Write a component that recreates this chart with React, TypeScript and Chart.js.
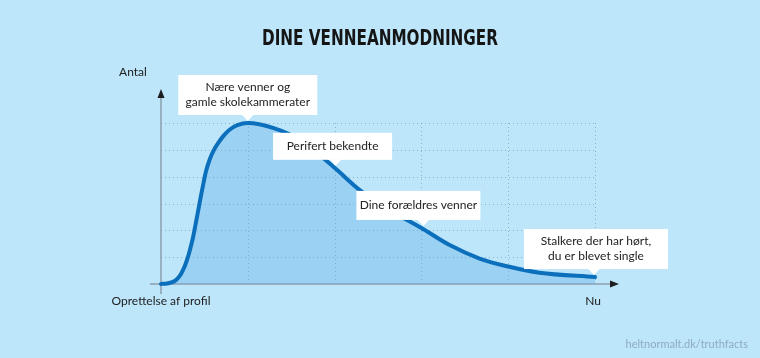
import React, { useEffect, useRef } from 'react';
import { Chart, registerables } from 'chart.js';

Chart.register(...registerables);

// ---- data ----
const xValues = [0, 0.07, 0.13, 0.18, 0.22, 0.25, 0.28, 0.31, 0.34, 0.37, 0.4, 0.43, 0.46, 0.49, 0.52, 0.56, 0.61, 0.66, 0.72, 0.79, 0.88, 1, 1.29, 1.6, 2, 2.29, 2.63, 3, 3.32, 3.67, 4, 4.36, 5];
const yValues = [0, 0.02, 0.07, 0.17, 0.32, 0.5, 0.72, 1.0, 1.35, 1.75, 2.25, 2.76, 3.28, 3.77, 4.22, 4.63, 5.0, 5.26, 5.52, 5.75, 5.92, 6, 5.82, 5.37, 4.33, 3.5, 2.76, 2.09, 1.46, 0.95, 0.65, 0.42, 0.26];
const gridX = [1, 2, 3, 4, 5];
const gridY = [1, 2, 3, 4, 5, 6];
const annotationX = [1, 2, 3, 5];
const annotationText = [
  ['Nære venner og', 'gamle skolekammerater'],
  ['Perifert bekendte'],
  ['Dine forældres venner'],
  ['Stalkere der har hørt,', 'du er blevet single'],
];
const titleText = 'DINE VENNEANMODNINGER';
const yAxisLabel = 'Antal';
const xStartLabel = 'Oprettelse af profil';
const xEndLabel = 'Nu';
const sourceText = 'heltnormalt.dk/truthfacts';

const BG = '#bde6fb';
const TEXT_FONT = "'Lato', 'Noto Sans', sans-serif";

const decorPlugin = {
  id: 'decor',
  beforeDraw(chart: any) {
    const { ctx, width, height } = chart;
    ctx.save();
    ctx.fillStyle = BG;
    ctx.fillRect(0, 0, width, height);
    ctx.restore();
  },
  beforeDatasetsDraw(chart: any) {
    const { ctx, scales } = chart;
    const xs = scales.x;
    const ys = scales.y;
    const x0 = xs.getPixelForValue(0);
    const y0 = ys.getPixelForValue(0);
    const xMax = xs.getPixelForValue(5);
    const yMax = ys.getPixelForValue(6);
    ctx.save();
    // dotted grid
    ctx.strokeStyle = 'rgba(120,160,185,0.75)';
    ctx.lineWidth = 1;
    ctx.setLineDash([1, 3]);
    gridX.forEach((v) => {
      const px = Math.round(xs.getPixelForValue(v)) + 0.5;
      ctx.beginPath();
      ctx.moveTo(px, yMax);
      ctx.lineTo(px, y0);
      ctx.stroke();
    });
    gridY.forEach((v) => {
      const py = Math.round(ys.getPixelForValue(v)) + 0.5;
      ctx.beginPath();
      ctx.moveTo(x0, py);
      ctx.lineTo(xMax, py);
      ctx.stroke();
    });
    ctx.setLineDash([]);
    // axes
    ctx.strokeStyle = '#8c9eab';
    ctx.lineWidth = 1.5;
    ctx.beginPath();
    ctx.moveTo(x0, y0 + 10);
    ctx.lineTo(x0, yMax - 28);
    ctx.stroke();
    ctx.beginPath();
    ctx.moveTo(x0 - 11, y0);
    ctx.lineTo(xMax + 18, y0);
    ctx.stroke();
    // arrows
    ctx.fillStyle = '#1d1d1d';
    ctx.beginPath();
    ctx.moveTo(x0, yMax - 34);
    ctx.lineTo(x0 - 3.5, yMax - 25);
    ctx.lineTo(x0 + 3.5, yMax - 25);
    ctx.closePath();
    ctx.fill();
    ctx.beginPath();
    ctx.moveTo(xMax + 24, y0);
    ctx.lineTo(xMax + 15, y0 - 3.5);
    ctx.lineTo(xMax + 15, y0 + 3.5);
    ctx.closePath();
    ctx.fill();
    ctx.restore();
  },
  afterDatasetsDraw(chart: any, _args: any, opts: any) {
    const { ctx, scales, width } = chart;
    const xs = scales.x;
    const ys = scales.y;
    const x0 = xs.getPixelForValue(0);
    const y0 = ys.getPixelForValue(0);
    const xMax = xs.getPixelForValue(5);
    const yMax = ys.getPixelForValue(6);
    ctx.save();
    // title
    ctx.fillStyle = '#151515';
    ctx.textAlign = 'center';
    ctx.textBaseline = 'alphabetic';
    ctx.font = "bold 21px 'Liberation Sans Narrow', 'DejaVu Sans Condensed', sans-serif";
    ctx.fillText(titleText, width / 2, 45, 236);
    // axis labels
    ctx.font = `12px ${TEXT_FONT}`;
    ctx.fillStyle = '#222';
    ctx.textBaseline = 'middle';
    ctx.fillText(yAxisLabel, x0 - 28, yMax - 51);
    ctx.fillText(xStartLabel, x0, y0 + 17);
    ctx.fillText(xEndLabel, xMax - 2, y0 + 17);
    // source
    ctx.font = `11px ${TEXT_FONT}`;
    ctx.fillStyle = '#8fabc0';
    ctx.textAlign = 'right';
    ctx.fillText(sourceText, width - 12, 344);

    // annotation boxes
    ctx.font = `12px ${TEXT_FONT}`;
    annotationX.forEach((ax, i) => {
      const idx = xValues.indexOf(ax);
      const tipX = xs.getPixelForValue(ax) + opts.dx[i];
      const tipY = ys.getPixelForValue(yValues[idx]) - 2;
      const lines = annotationText[i];
      const w = opts.boxW[i];
      const h = opts.boxH[i];
      const bottom = tipY - 6;
      const top = bottom - h;
      const cx = tipX + opts.boxDx[i];
      const left = cx - w / 2;
      ctx.fillStyle = '#ffffff';
      ctx.fillRect(left, top, w, h);
      ctx.beginPath();
      ctx.moveTo(tipX - 6, bottom - 0.5);
      ctx.lineTo(tipX + 6, bottom - 0.5);
      ctx.lineTo(tipX, tipY);
      ctx.closePath();
      ctx.fill();
      ctx.fillStyle = '#222';
      ctx.textAlign = 'center';
      ctx.textBaseline = 'middle';
      const lh = 15;
      const startY = top + h / 2 - ((lines.length - 1) * lh) / 2;
      lines.forEach((l: string, j: number) => ctx.fillText(l, cx, startY + j * lh));
    });
    ctx.restore();
  },
};

export default function App() {
  const ref = useRef<HTMLCanvasElement>(null);
  useEffect(() => {
    document.body.style.margin = '0';
    const canvas = ref.current;
    if (!canvas) return;
    const chart = new Chart(canvas, {
      type: 'line',
      data: {
        datasets: [
          {
            data: xValues.map((x, i) => ({ x, y: yValues[i] })),
            borderColor: '#0b6fbc',
            borderWidth: 4,
            backgroundColor: 'rgba(95,176,230,0.36)',
            fill: 'origin',
            pointRadius: 0,
            cubicInterpolationMode: 'monotone',
            clip: false,
            borderCapStyle: 'round',
            borderJoinStyle: 'round',
          } as any,
        ],
      },
      options: {
        responsive: false,
        animation: false,
        layout: { padding: { left: 161, right: 165, top: 123, bottom: 74 } },
        scales: {
          x: { type: 'linear', min: 0, max: 5, display: false },
          y: { type: 'linear', min: 0, max: 6, display: false },
        },
        plugins: {
          legend: { display: false },
          tooltip: { enabled: false },
          decor: {
            dx: [0, 1, 2, -1],
            boxDx: [0, -3, -5, 2],
            boxW: [139, 119, 124, 144],
            boxH: [40, 27, 29, 40],
          },
        } as any,
      },
      plugins: [decorPlugin],
    });
    return () => chart.destroy();
  }, []);
  return (
    <div style={{ width: 760, height: 358 }}>
      <canvas ref={ref} width={760} height={358} style={{ display: 'block' }} />
    </div>
  );
}
